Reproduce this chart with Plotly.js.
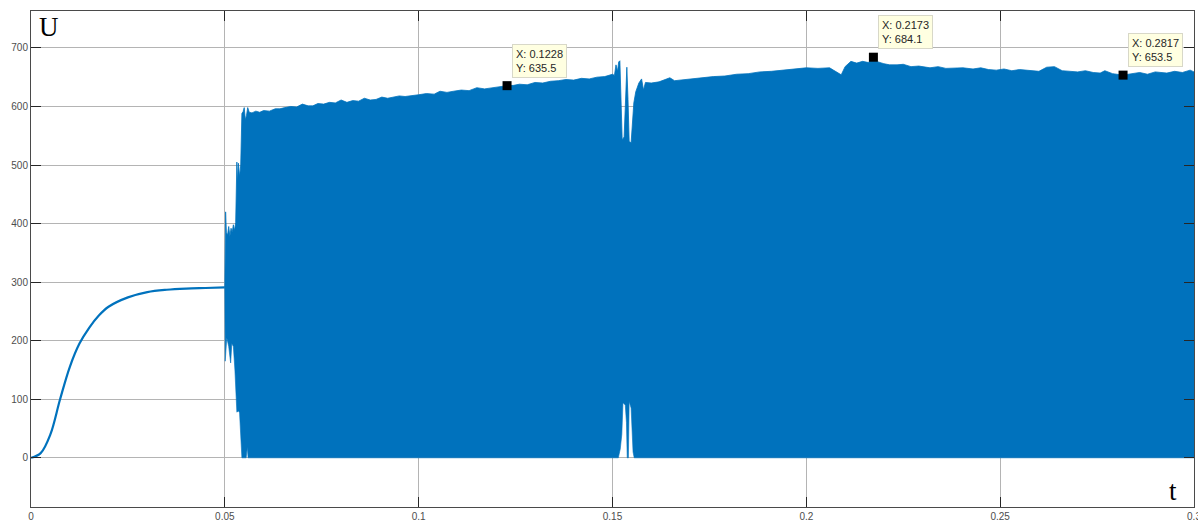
<!DOCTYPE html>
<html>
<head>
<meta charset="utf-8">
<script src="https://cdn.plot.ly/plotly-3.0.1.min.js"></script>
<style>
  html, body { margin: 0; padding: 0; background: #ffffff; }
  #chart { width: 1198px; height: 522px; }
</style>
</head>
<body>
<div id="chart"></div>
<script>
// Charging phase of the voltage U(t) before switching (t < 0.05 s)
const chargeT = [0, 0.0025, 0.005, 0.0075, 0.01, 0.0125, 0.015, 0.0175, 0.02, 0.025, 0.03, 0.035, 0.04, 0.045, 0.05];
const chargeU = [0, 8, 40, 100, 155, 195, 222, 243, 258, 274, 283, 287, 289, 290, 291];

// Upper envelope of the switched (pulsed) voltage, t >= 0.05 s
const upperT = [
  0.0500, 0.0501, 0.0502, 0.0504, 0.0507, 0.0510, 0.0513, 0.0516, 0.0519, 0.0522,
  0.0525, 0.0528, 0.0531, 0.0533, 0.0535, 0.0538, 0.0541, 0.0544, 0.0547, 0.0550,
  0.0553, 0.0556, 0.0559, 0.0563, 0.0570, 0.0580, 0.0590, 0.0600, 0.0615, 0.0630,
  0.0642, 0.0655, 0.0670, 0.0685, 0.0700, 0.0715, 0.0727, 0.0740, 0.0755, 0.0770,
  0.0785, 0.0800, 0.0815, 0.0830, 0.0845, 0.0860, 0.0875, 0.0890, 0.0905, 0.0920,
  0.0935, 0.0950, 0.0965, 0.0985, 0.1000, 0.1020, 0.1040, 0.1055, 0.1073, 0.1090,
  0.1110, 0.1130, 0.1150, 0.1170, 0.1190, 0.1210, 0.1228, 0.1245, 0.1260, 0.1280,
  0.1300, 0.1320, 0.1340, 0.1360, 0.1380, 0.1400, 0.1420, 0.1440, 0.1460, 0.1480,
  0.1500, 0.1505, 0.1509, 0.1513, 0.1516, 0.1519, 0.1522, 0.1525, 0.1530, 0.1534,
  0.1537, 0.1540, 0.1543, 0.1548, 0.1552, 0.1555, 0.1560, 0.1563, 0.1568, 0.1575,
  0.1580, 0.1585, 0.1600, 0.1620, 0.1648, 0.1660, 0.1674, 0.1700, 0.1730, 0.1760,
  0.1790, 0.1820, 0.1850, 0.1880, 0.1910, 0.1940, 0.1970, 0.2000, 0.2030, 0.2060,
  0.2090, 0.2100, 0.2115, 0.2130, 0.2145, 0.2160, 0.2173, 0.2185, 0.2200, 0.2215,
  0.2234, 0.2250, 0.2270, 0.2290, 0.2319, 0.2340, 0.2360, 0.2380, 0.2404, 0.2430,
  0.2450, 0.2470, 0.2490, 0.2510, 0.2530, 0.2550, 0.2577, 0.2600, 0.2620, 0.2640,
  0.2660, 0.2680, 0.2700, 0.2720, 0.2740, 0.2758, 0.2770, 0.2790, 0.2817, 0.2840,
  0.2860, 0.2880, 0.2900, 0.2930, 0.2950, 0.2970, 0.2990, 0.3000
];
const upperU = [
  291, 405, 420, 385, 380, 395, 378, 392, 385, 398,
  388, 402, 505, 470, 503, 480, 500, 588, 591, 598,
  577, 585, 598, 590, 589, 592, 590, 593, 592, 596,
  596, 598, 600, 599, 604, 601, 601, 605, 604, 607,
  606, 611, 607, 610, 609, 614, 611, 612, 616, 614,
  616, 618, 617, 618, 620, 622, 621, 626, 624, 626,
  628, 627, 632, 630, 632, 633, 635.5, 636, 638, 637,
  641, 640, 643, 644, 646, 645, 648, 647, 650, 651,
  655, 653, 671, 660, 676, 678, 600, 543, 548, 615,
  667, 612, 540, 538, 580, 606, 625, 632, 640, 647,
  628, 641, 640, 642, 649, 644, 645, 646, 648, 651,
  652, 655, 656, 659, 660, 662, 663, 666, 665, 666,
  654, 668, 677, 674, 677, 675, 684.1, 676, 673, 671,
  671, 672, 668, 669, 666, 668, 665, 666, 666, 664,
  666, 663, 662, 664, 661, 663, 662, 660, 667, 668,
  661, 660, 659, 661, 658, 657, 661, 656, 653.5, 656,
  658, 655, 659, 657, 660, 658, 662, 659
];

// Lower envelope of the switched voltage
const lowerT = [
  0.0500, 0.0501, 0.0505, 0.0510, 0.0515, 0.0518, 0.0522, 0.0526, 0.0531, 0.0535,
  0.0538, 0.0541, 0.0544, 0.0555, 0.0558, 0.0560, 0.1515, 0.1520, 0.1524, 0.1527,
  0.1533, 0.1536, 0.1538, 0.1541, 0.1543, 0.1548, 0.1550, 0.1553, 0.1556, 0.3000
];
const lowerU = [
  291, 165, 205, 190, 162, 195, 190, 150, 78, 80,
  77, 40, 0, 0, 18, 0, 0, 15, 40, 94,
  90, 60, 0, 0, 96, 85, 53, 10, 0, 0
];

// Data cursors
const tipT = [0.1228, 0.2173, 0.2817];
const tipU = [635.5, 684.1, 653.5];

const blue = '#0072BD';

const traces = [
  { x: chargeT, y: chargeU, type: 'scatter', mode: 'lines',
    line: { color: blue, width: 2.2, shape: 'spline', smoothing: 1 }, hoverinfo: 'skip', showlegend: false },
  { x: lowerT, y: lowerU, type: 'scatter', mode: 'lines',
    line: { color: blue, width: 0.6 }, hoverinfo: 'skip', showlegend: false },
  { x: upperT, y: upperU, type: 'scatter', mode: 'lines', fill: 'tonexty',
    fillcolor: blue, line: { color: blue, width: 0.8 }, hoverinfo: 'skip', showlegend: false },
  { x: tipT, y: tipU, type: 'scatter', mode: 'markers',
    marker: { symbol: 'square', size: 9, color: '#000000' }, hoverinfo: 'skip', showlegend: false }
];

const tipNotes = tipT.map((t, i) => ({
  x: t, y: tipU[i], xref: 'x', yref: 'y',
  text: 'X: ' + t.toFixed(4) + '<br>Y: ' + tipU[i].toFixed(1),
  showarrow: false, xanchor: 'left', yanchor: 'bottom', align: 'left',
  xshift: 5, yshift: 8,
  font: { family: 'Arial, Liberation Sans, sans-serif', size: 11, color: '#262626' },
  bgcolor: '#FFFFE1', bordercolor: '#D8D8C8', borderwidth: 1, borderpad: 3
}));

const axisCommon = {
  showline: true, linecolor: '#4a4a4a', linewidth: 1, mirror: 'ticks',
  ticks: 'inside', ticklen: 10, tickwidth: 1, tickcolor: '#262626',
  showgrid: true, gridcolor: '#b4b4b4', gridwidth: 1, zeroline: false,
  ticklabeloverflow: 'allow',
  tickfont: { family: 'Arial, Liberation Sans, sans-serif', size: 10, color: '#4d4d4d' }
};

const layout = {
  width: 1198, height: 522,
  margin: { l: 31, r: 4, t: 11, b: 15 },
  paper_bgcolor: '#ffffff', plot_bgcolor: '#ffffff',
  showlegend: false,
  xaxis: Object.assign({}, axisCommon, {
    range: [0, 0.3], tickvals: [0, 0.05, 0.1, 0.15, 0.2, 0.25, 0.3],
    ticktext: ['0', '0.05', '0.1', '0.15', '0.2', '0.25', '0.3']
  }),
  yaxis: Object.assign({}, axisCommon, {
    range: [-84, 763], tickvals: [0, 100, 200, 300, 400, 500, 600, 700]
  }),
  annotations: tipNotes.concat([
    { xref: 'paper', yref: 'paper', x: 0.005, y: 0.968, xanchor: 'left', yanchor: 'middle',
      text: 'U', showarrow: false,
      font: { family: 'Liberation Serif, Times New Roman, serif', size: 27, color: '#000000' } },
    { xref: 'paper', yref: 'paper', x: 0.982, y: 0.032, xanchor: 'center', yanchor: 'middle',
      text: 't', showarrow: false,
      font: { family: 'Liberation Serif, Times New Roman, serif', size: 27, color: '#000000' } }
  ])
};

Plotly.newPlot('chart', traces, layout, { staticPlot: true, displayModeBar: false });
</script>
</body>
</html>
